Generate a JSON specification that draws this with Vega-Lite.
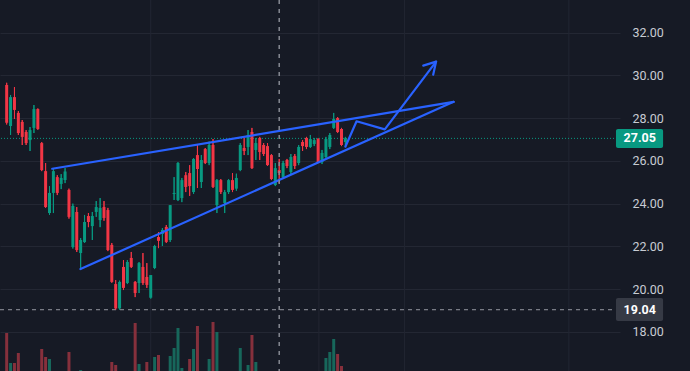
{
"$schema":"https://vega.github.io/schema/vega-lite/v6.json",
"width":620,"height":371,
"autosize":{"type":"none"},
"padding":{"left":0,"top":0,"right":70,"bottom":0},
"background":"#161a25",
"config":{"view":{"stroke":null},"axis":{"domain":false,"ticks":false}},
"datasets":{
"candles":[
{"t":0,"o":29.55,"h":29.65,"l":27.7,"c":27.78,"v":38},
{"t":1,"o":27.63,"h":29.08,"l":27.21,"c":28.98,"v":8},
{"t":2,"o":28.98,"h":29.45,"l":27.96,"c":28.38,"v":8},
{"t":3,"o":28.24,"h":28.33,"l":27.21,"c":27.3,"v":18},
{"t":4,"o":27.82,"h":27.91,"l":26.74,"c":27.12,"v":0},
{"t":5,"o":27.35,"h":27.44,"l":26.74,"c":26.83,"v":0},
{"t":6,"o":26.97,"h":27.58,"l":26.46,"c":27.44,"v":0},
{"t":7,"o":27.54,"h":28.61,"l":27.3,"c":28.42,"v":0},
{"t":8,"o":28.42,"h":28.45,"l":27.45,"c":27.49,"v":0},
{"t":9,"o":26.83,"h":26.88,"l":25.52,"c":25.57,"v":22},
{"t":10,"o":25.52,"h":25.9,"l":23.8,"c":23.84,"v":14},
{"t":11,"o":23.56,"h":24.82,"l":23.47,"c":24.5,"v":12},
{"t":12,"o":24.5,"h":25.66,"l":23.56,"c":25.52,"v":0},
{"t":13,"o":25.24,"h":25.33,"l":24.4,"c":24.5,"v":0},
{"t":14,"o":24.92,"h":25.38,"l":24.68,"c":25.2,"v":0},
{"t":15,"o":25.1,"h":25.66,"l":24.96,"c":25.5,"v":0},
{"t":16,"o":24.64,"h":24.7,"l":23.3,"c":23.38,"v":19},
{"t":17,"o":21.97,"h":24.0,"l":21.9,"c":23.89,"v":0},
{"t":18,"o":23.61,"h":23.84,"l":21.74,"c":21.83,"v":0},
{"t":19,"o":21.69,"h":22.39,"l":20.9,"c":22.3,"v":1},
{"t":20,"o":22.2,"h":23.47,"l":22.16,"c":23.14,"v":0},
{"t":21,"o":23.42,"h":23.56,"l":22.9,"c":23.14,"v":0},
{"t":22,"o":22.95,"h":23.61,"l":22.3,"c":23.42,"v":0},
{"t":23,"o":23.61,"h":24.12,"l":23.38,"c":23.84,"v":0},
{"t":24,"o":23.23,"h":24.26,"l":22.9,"c":23.8,"v":0},
{"t":25,"o":23.84,"h":24.12,"l":23.2,"c":23.33,"v":0},
{"t":26,"o":23.7,"h":23.8,"l":21.78,"c":21.83,"v":0},
{"t":27,"o":22.07,"h":22.16,"l":20.3,"c":20.34,"v":9},
{"t":28,"o":20.24,"h":20.43,"l":19.04,"c":19.1,"v":6},
{"t":29,"o":19.1,"h":20.4,"l":19.04,"c":20.34,"v":0},
{"t":30,"o":21.04,"h":21.36,"l":19.96,"c":20.06,"v":0},
{"t":31,"o":20.29,"h":21.36,"l":20.24,"c":21.27,"v":0},
{"t":32,"o":21.46,"h":21.74,"l":20.99,"c":21.04,"v":0},
{"t":33,"o":20.34,"h":20.38,"l":19.63,"c":19.82,"v":48},
{"t":34,"o":20.29,"h":21.27,"l":19.82,"c":21.22,"v":7},
{"t":35,"o":21.04,"h":21.69,"l":20.2,"c":20.29,"v":0},
{"t":36,"o":20.57,"h":21.22,"l":20.06,"c":20.2,"v":9},
{"t":37,"o":19.6,"h":20.66,"l":19.55,"c":20.66,"v":0},
{"t":38,"o":20.99,"h":22.07,"l":20.94,"c":22.02,"v":14},
{"t":39,"o":22.44,"h":22.67,"l":21.92,"c":22.26,"v":16},
{"t":40,"o":22.58,"h":22.86,"l":22.02,"c":22.77,"v":0},
{"t":41,"o":22.91,"h":23.0,"l":22.16,"c":22.21,"v":0},
{"t":42,"o":22.3,"h":23.93,"l":22.21,"c":23.93,"v":15},
{"t":43,"o":24.45,"h":25.24,"l":24.17,"c":24.5,"v":23},
{"t":44,"o":24.17,"h":25.94,"l":24.12,"c":25.9,"v":43},
{"t":45,"o":24.26,"h":25.2,"l":24.07,"c":25.1,"v":3},
{"t":46,"o":25.33,"h":25.48,"l":24.54,"c":24.78,"v":0},
{"t":47,"o":25.43,"h":25.8,"l":24.36,"c":24.82,"v":12},
{"t":48,"o":24.54,"h":26.13,"l":24.45,"c":26.09,"v":22},
{"t":49,"o":26.27,"h":26.74,"l":24.73,"c":25.62,"v":45},
{"t":50,"o":25.01,"h":26.27,"l":24.73,"c":26.04,"v":0},
{"t":51,"o":26.55,"h":26.6,"l":25.85,"c":25.9,"v":0},
{"t":52,"o":25.9,"h":26.9,"l":25.8,"c":26.74,"v":12},
{"t":53,"o":26.74,"h":27.02,"l":24.73,"c":24.78,"v":49},
{"t":54,"o":23.93,"h":25.15,"l":23.56,"c":25.1,"v":39},
{"t":55,"o":25.1,"h":25.15,"l":24.45,"c":24.54,"v":0},
{"t":56,"o":24.03,"h":24.64,"l":23.56,"c":24.54,"v":0},
{"t":57,"o":24.54,"h":25.15,"l":24.45,"c":25.1,"v":0},
{"t":58,"o":25.1,"h":25.43,"l":24.54,"c":24.64,"v":0},
{"t":59,"o":24.7,"h":25.4,"l":24.6,"c":25.2,"v":0},
{"t":60,"o":25.57,"h":26.83,"l":25.52,"c":26.74,"v":23},
{"t":61,"o":26.6,"h":27.07,"l":26.27,"c":26.46,"v":0},
{"t":62,"o":26.65,"h":27.44,"l":26.27,"c":27.21,"v":6},
{"t":63,"o":27.35,"h":27.54,"l":25.62,"c":25.66,"v":36},
{"t":64,"o":26.51,"h":27.07,"l":26.04,"c":26.83,"v":9},
{"t":65,"o":27.07,"h":27.12,"l":26.04,"c":26.41,"v":0},
{"t":66,"o":26.74,"h":26.83,"l":26.23,"c":26.32,"v":0},
{"t":67,"o":26.69,"h":26.83,"l":25.76,"c":25.8,"v":0},
{"t":68,"o":26.27,"h":26.32,"l":25.1,"c":25.15,"v":0},
{"t":69,"o":24.87,"h":25.9,"l":24.82,"c":25.66,"v":0},
{"t":70,"o":25.57,"h":26.09,"l":24.96,"c":25.43,"v":0},
{"t":71,"o":25.24,"h":26.0,"l":25.2,"c":25.9,"v":0},
{"t":72,"o":26.04,"h":26.09,"l":25.66,"c":25.76,"v":0},
{"t":73,"o":25.48,"h":26.32,"l":25.38,"c":26.18,"v":0},
{"t":74,"o":26.23,"h":26.32,"l":25.62,"c":25.76,"v":0},
{"t":75,"o":25.9,"h":26.74,"l":25.8,"c":26.65,"v":0},
{"t":76,"o":26.88,"h":26.97,"l":26.46,"c":26.69,"v":0},
{"t":77,"o":27.07,"h":27.12,"l":26.55,"c":26.65,"v":0},
{"t":78,"o":26.65,"h":27.21,"l":26.6,"c":27.02,"v":0},
{"t":79,"o":26.79,"h":27.07,"l":26.69,"c":26.97,"v":0},
{"t":80,"o":27.02,"h":27.07,"l":25.9,"c":25.94,"v":0},
{"t":81,"o":25.94,"h":26.51,"l":25.85,"c":26.37,"v":0},
{"t":82,"o":26.18,"h":27.12,"l":26.13,"c":27.02,"v":13},
{"t":83,"o":26.65,"h":27.3,"l":26.55,"c":27.21,"v":19},
{"t":84,"o":27.54,"h":28.24,"l":27.49,"c":27.96,"v":32},
{"t":85,"o":28.0,"h":28.05,"l":27.3,"c":27.35,"v":17},
{"t":86,"o":27.49,"h":27.54,"l":26.69,"c":26.74,"v":5},
{"t":87,"o":26.88,"h":27.12,"l":26.65,"c":27.05,"v":0}
],
"lines":[
{"g":"a","k":0,"t":11.7,"p":25.63},{"g":"a","k":1,"t":114.8,"p":28.76},
{"g":"b","k":0,"t":18.95,"p":20.94},{"g":"b","k":1,"t":114.8,"p":28.76},
{"g":"c","k":0,"t":87.0,"p":26.66},{"g":"c","k":1,"t":89.87,"p":27.85},{"g":"c","k":2,"t":97.12,"p":27.47},{"g":"c","k":3,"t":110.3,"p":30.64},
{"g":"d","k":0,"t":107.0,"p":30.45},{"g":"d","k":1,"t":110.3,"p":30.64},{"g":"d","k":2,"t":109.55,"p":30.03}
],
"vgrid":[{"t":37},{"t":80.2},{"t":102.2},{"t":144.4}],
"labels":[{"p":27.05,"label":"27.05"},{"p":19.04,"label":"19.04"}]
},
"resolve":{"scale":{"y":"independent"},"axis":{"y":"independent"}},
"layer":[
{"data":{"name":"candles"},"mark":{"type":"rule","strokeWidth":1},
 "encoding":{
  "x":{"field":"t","type":"quantitative","scale":{"domain":[-0.43,156.25],"nice":false,"zero":false},"axis":null},
  "y":{"field":"l","type":"quantitative","scale":{"domain":[16.175,33.52],"nice":false,"zero":false},
       "axis":{"orient":"right","values":[18,20,22,24,26,28,30,32],"format":".2f","grid":true,"gridColor":"#232733","gridWidth":1,"labelColor":"#c8cbd3","labelFontSize":12.5,"labelFont":"Roboto","labelPadding":12,"labelAlign":"left","labelBaseline":"middle","title":null,"zindex":0}},
  "y2":{"field":"h"},
  "color":{"condition":{"test":"datum.c >= datum.o","value":"#089981"},"value":"#f23645"}}},
{"data":{"name":"vgrid"},"mark":{"type":"rule","color":"#222632","strokeWidth":1},
 "encoding":{"x":{"field":"t","type":"quantitative","scale":{"domain":[-0.43,156.25],"nice":false,"zero":false},"axis":null}}},
{"data":{"name":"candles"},"mark":{"type":"bar","size":3},
 "encoding":{
  "x":{"field":"t","type":"quantitative","scale":{"domain":[-0.43,156.25],"nice":false,"zero":false},"axis":null},
  "y":{"field":"v","type":"quantitative","scale":{"domain":[0,371],"nice":false,"zero":true},"axis":null},
  "color":{"condition":{"test":"datum.c >= datum.o","value":"#17675b"},"value":"#86303c"}}},
{"data":{"values":[{"p":27.05}]},"mark":{"type":"rule","color":"#089981","strokeWidth":1,"strokeDash":[1,2]},
 "encoding":{"y":{"field":"p","type":"quantitative","scale":{"domain":[16.175,33.52],"nice":false,"zero":false},"axis":null}}},
{"data":{"values":[{"p":19.04}]},"mark":{"type":"rule","color":"#9598a1","strokeWidth":1,"strokeDash":[4,4]},
 "encoding":{"y":{"field":"p","type":"quantitative","scale":{"domain":[16.175,33.52],"nice":false,"zero":false},"axis":null}}},
{"data":{"name":"candles"},"mark":{"type":"rule","strokeWidth":1},
 "encoding":{
  "x":{"field":"t","type":"quantitative","scale":{"domain":[-0.43,156.25],"nice":false,"zero":false},"axis":null},
  "y":{"field":"l","type":"quantitative","scale":{"domain":[16.175,33.52],"nice":false,"zero":false},"axis":null},
  "y2":{"field":"h"},
  "color":{"condition":{"test":"datum.c >= datum.o","value":"#089981"},"value":"#f23645"}}},
{"data":{"name":"candles"},"mark":{"type":"bar","size":3},
 "encoding":{
  "x":{"field":"t","type":"quantitative","scale":{"domain":[-0.43,156.25],"nice":false,"zero":false},"axis":null},
  "y":{"field":"o","type":"quantitative","scale":{"domain":[16.175,33.52],"nice":false,"zero":false},"axis":null},
  "y2":{"field":"c"},
  "color":{"condition":{"test":"datum.c >= datum.o","value":"#089981"},"value":"#f23645"}}},
{"data":{"name":"lines"},"mark":{"type":"line","color":"#2962ff","strokeWidth":2.2,"strokeCap":"round","strokeJoin":"round"},
 "encoding":{
  "x":{"field":"t","type":"quantitative","scale":{"domain":[-0.43,156.25],"nice":false,"zero":false},"axis":null},
  "y":{"field":"p","type":"quantitative","scale":{"domain":[16.175,33.52],"nice":false,"zero":false},"axis":null},
  "detail":{"field":"g"},"order":{"field":"k"}}},
{"data":{"values":[{"t":70}]},"mark":{"type":"rule","color":"#868993","strokeWidth":1.5,"strokeDash":[4,5]},
 "encoding":{"x":{"field":"t","type":"quantitative","scale":{"domain":[-0.43,156.25],"nice":false,"zero":false},"axis":null}}},
{"data":{"values":[{"p":27.05}]},"mark":{"type":"rect","color":"#089981","cornerRadius":2},
 "encoding":{
  "x":{"datum":156.5,"type":"quantitative","scale":{"domain":[-0.43,156.25],"nice":false,"zero":false},"axis":null},
  "x2":{"datum":168.6},
  "y":{"datum":27.49,"type":"quantitative","scale":{"domain":[16.175,33.52],"nice":false,"zero":false},"axis":null},
  "y2":{"datum":26.6}}},
{"data":{"values":[{"p":19.04}]},"mark":{"type":"rect","color":"#363a45","cornerRadius":2},
 "encoding":{
  "x":{"datum":156.5,"type":"quantitative","scale":{"domain":[-0.43,156.25],"nice":false,"zero":false},"axis":null},
  "x2":{"datum":168.6},
  "y":{"datum":19.59,"type":"quantitative","scale":{"domain":[16.175,33.52],"nice":false,"zero":false},"axis":null},
  "y2":{"datum":18.51}}},
{"data":{"name":"labels"},"mark":{"type":"text","color":"#ffffff","font":"Roboto","fontSize":12.5,"fontWeight":"bold","align":"center","baseline":"middle"},
 "encoding":{
  "x":{"datum":162.6,"type":"quantitative","scale":{"domain":[-0.43,156.25],"nice":false,"zero":false},"axis":null},
  "y":{"field":"p","type":"quantitative","scale":{"domain":[16.175,33.52],"nice":false,"zero":false},"axis":null},
  "text":{"field":"label"}}}
]
}
